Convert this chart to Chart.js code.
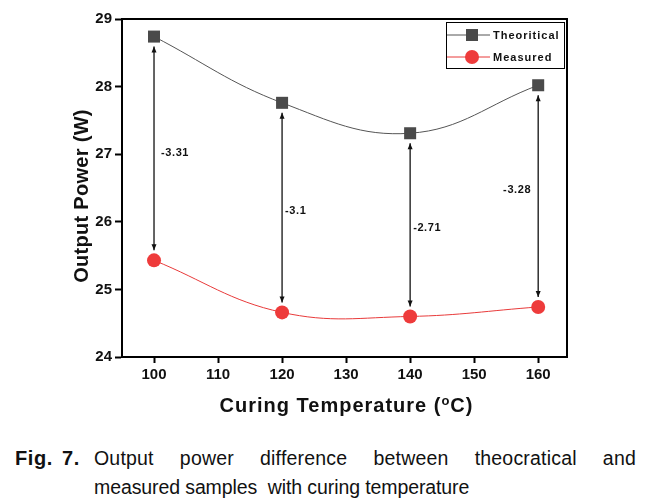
<!DOCTYPE html>
<html>
<head>
<meta charset="utf-8">
<script src="https://cdn.jsdelivr.net/npm/chart.js@4/dist/chart.umd.min.js"></script>
<style>
  body { margin: 0; background: #fff; width: 656px; height: 504px; overflow: hidden; }
  #wrap { position: relative; width: 656px; height: 430px; }
  .cap { font-family: "Liberation Sans", Arial, sans-serif; font-size: 19.5px; color: #111; position: absolute; left: 0; }
  .fig { position: absolute; left: 15px; top: 447px; font-weight: bold; font-size: 20px; letter-spacing: 0.6px; word-spacing: 3px; }
  .l1 { position: absolute; left: 94px; width: 542px; top: 447px; text-align: justify; text-align-last: justify; letter-spacing: 0.2px; }
  .l2 { position: absolute; left: 94px; top: 476px; white-space: pre; letter-spacing: -0.1px; }
</style>
</head>
<body>
<div id="wrap"><canvas id="powerChart" width="656" height="430"></canvas></div>
<div class="cap fig">Fig. 7.</div>
<div class="cap l1">Output power difference between theocratical and</div>
<div class="cap l2">measured samples  with curing temperature</div>
<script>
// curing temperatures (oC)
const temps = [100, 120, 140, 160];
// output power (W)
const theoretical = [28.74, 27.76, 27.31, 28.02];
const measured = [25.43, 24.66, 24.60, 24.74];
// difference labels shown next to the arrows
const diffLabels = ["-3.31", "-3.1", "-2.71", "-3.28"];

const xTicks = [100, 110, 120, 130, 140, 150, 160];
const yTicks = [24, 25, 26, 27, 28, 29];

const FONT = "'Liberation Sans', Arial, sans-serif";

// box around the plot, arrows + labels, legend and axis titles
const decorPlugin = {
  id: "decor",
  afterDatasetsDraw(chart) {
    const ctx = chart.ctx;
    const xs = chart.scales.x;
    const ys = chart.scales.y;

    // difference arrows
    ctx.save();
    ctx.strokeStyle = "#111";
    ctx.fillStyle = "#111";
    ctx.lineWidth = 1.3;
    for (let i = 0; i < temps.length; i++) {
      const x = xs.getPixelForValue(temps[i]);
      const yTop = ys.getPixelForValue(theoretical[i]) + 10;
      const yBot = ys.getPixelForValue(measured[i]) - 10;
      ctx.beginPath();
      ctx.moveTo(x, yTop);
      ctx.lineTo(x, yBot);
      ctx.stroke();
      // heads
      ctx.beginPath();
      ctx.moveTo(x, yTop);
      ctx.lineTo(x - 2.5, yTop + 6);
      ctx.lineTo(x + 2.5, yTop + 6);
      ctx.closePath();
      ctx.fill();
      ctx.beginPath();
      ctx.moveTo(x, yBot);
      ctx.lineTo(x - 2.5, yBot - 6);
      ctx.lineTo(x + 2.5, yBot - 6);
      ctx.closePath();
      ctx.fill();

      // label
      ctx.font = "bold 11px " + FONT;
      ctx.letterSpacing = "0.6px";
      ctx.textBaseline = "middle";
      const yMid = yTop + (yBot - yTop) * 0.52;
      if (i === temps.length - 1) {
        ctx.textAlign = "right";
        ctx.fillText(diffLabels[i], x - 7, yMid - 10);
      } else {
        ctx.textAlign = "left";
        ctx.fillText(diffLabels[i], x + (i === 0 ? 7 : 3), yMid);
      }
    }
    ctx.restore();
  },
  afterDraw(chart) {
    const ctx = chart.ctx;
    const area = chart.chartArea;
    ctx.save();
    // frame
    ctx.strokeStyle = "#000";
    ctx.lineWidth = 2;
    ctx.strokeRect(area.left, area.top, area.right - area.left, area.bottom - area.top);

    // legend
    const lx = 446, ly = 22, lw = 118, lh = 46;
    ctx.lineWidth = 1;
    ctx.strokeStyle = "#000";
    ctx.strokeRect(lx + 0.5, ly + 0.5, lw, lh);
    const ds = chart.data.datasets;
    const rows = [ly + 13, ly + 35];
    ds.forEach((d, i) => {
      const y = rows[i];
      ctx.strokeStyle = d.borderColor;
      ctx.lineWidth = 1;
      ctx.beginPath();
      ctx.moveTo(lx + 1, y);
      ctx.lineTo(lx + 44, y);
      ctx.stroke();
      ctx.fillStyle = d.pointBackgroundColor;
      if (d.pointStyle === "rect") {
        ctx.fillRect(lx + 20, y - 6, 12, 12);
      } else {
        ctx.beginPath();
        ctx.arc(lx + 26, y, 7, 0, Math.PI * 2);
        ctx.fill();
      }
      ctx.fillStyle = "#111";
      ctx.font = "bold 11px " + FONT;
      ctx.letterSpacing = "1px";
      ctx.textAlign = "left";
      ctx.textBaseline = "middle";
      ctx.fillText(d.label, lx + 47, y + 1);
    });

    // axis titles
    ctx.fillStyle = "#111";
    ctx.textBaseline = "middle";
    ctx.letterSpacing = "1px";
    const mid = (area.left + area.right) / 2;
    const p1 = "Curing Temperature (";
    const sup = "o";
    const p2 = "C)";
    ctx.font = "bold 20px " + FONT;
    const w1 = ctx.measureText(p1).width;
    const w3 = ctx.measureText(p2).width;
    ctx.font = "bold 13px " + FONT;
    const w2 = ctx.measureText(sup).width;
    let x0 = mid - (w1 + w2 + w3) / 2 + 2;
    const ty = 406;
    ctx.textAlign = "left";
    ctx.font = "bold 20px " + FONT;
    ctx.fillText(p1, x0, ty);
    ctx.font = "bold 13px " + FONT;
    ctx.fillText(sup, x0 + w1, ty - 5);
    ctx.font = "bold 20px " + FONT;
    ctx.fillText(p2, x0 + w1 + w2, ty);

    ctx.letterSpacing = "0.3px";
    ctx.translate(82, 196);
    ctx.rotate(-Math.PI / 2);
    ctx.textAlign = "center";
    ctx.fillText("Output Power (W)", 0, 0);
    ctx.restore();
  }
};

const ctx = document.getElementById("powerChart").getContext("2d");
new Chart(ctx, {
  type: "line",
  data: {
    datasets: [
      {
        label: "Theoritical",
        data: temps.map((t, i) => ({ x: t, y: theoretical[i] })),
        borderColor: "#555555",
        borderWidth: 1,
        pointStyle: "rect",
        pointRadius: 8.5,
        pointBackgroundColor: "#4a4a4a",
        pointBorderWidth: 0,
        tension: 0.4,
        fill: false,
      },
      {
        label: "Measured",
        data: temps.map((t, i) => ({ x: t, y: measured[i] })),
        borderColor: "#e83a3a",
        borderWidth: 1,
        pointStyle: "circle",
        pointRadius: 7,
        pointBackgroundColor: "#ee3b3b",
        pointBorderWidth: 0,
        tension: 0.4,
        fill: false,
      },
    ],
  },
  options: {
    responsive: false,
    animation: false,
    layout: { padding: { top: 19, right: 89, left: 0, bottom: 0 } },
    plugins: {
      legend: { display: false },
      tooltip: { enabled: false },
    },
    scales: {
      x: {
        type: "linear",
        min: 95,
        max: 164.5,
        afterBuildTicks: (s) => { s.ticks = xTicks.map((v) => ({ value: v })); },
        afterFit: (s) => { s.height = 73; },
        grid: { drawOnChartArea: false, tickLength: 6, tickColor: "#000", tickWidth: 2 },
        border: { display: true, color: "#000", width: 2 },
        ticks: { color: "#111", font: { family: FONT, size: 15, weight: "bold" }, padding: 3 },
      },
      y: {
        min: 24,
        max: 29,
        afterBuildTicks: (s) => { s.ticks = yTicks.map((v) => ({ value: v })); },
        afterFit: (s) => { s.width = 122; },
        grid: { drawOnChartArea: false, tickLength: 7, tickColor: "#000", tickWidth: 2 },
        border: { display: true, color: "#000", width: 2 },
        ticks: { color: "#111", font: { family: FONT, size: 15, weight: "bold" }, padding: 3 },
      },
    },
  },
  plugins: [decorPlugin],
});
</script>
</body>
</html>
